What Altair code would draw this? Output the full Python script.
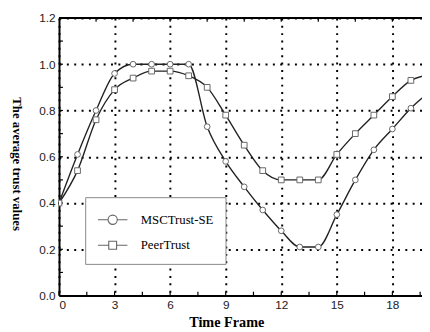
import altair as alt
import pandas as pd

# ---- data ----
time_frames = [0, 1, 2, 3, 4, 5, 6, 7, 8, 9, 10, 11, 12, 13, 14, 15, 16, 17, 18, 19, 20]
msc_trust = [0.40, 0.61, 0.80, 0.96, 1.00, 1.00, 1.00, 1.00, 0.73, 0.58, 0.47, 0.37,
             0.28, 0.21, 0.21, 0.35, 0.50, 0.63, 0.72, 0.81, 0.88]
peer_trust = [0.40, 0.54, 0.76, 0.89, 0.94, 0.97, 0.97, 0.95, 0.90, 0.78, 0.65, 0.54,
              0.50, 0.50, 0.50, 0.61, 0.70, 0.78, 0.86, 0.93, 0.955]
series_names = ["MSCTrust-SE", "PeerTrust"]
x_ticks = [0, 3, 6, 9, 12, 15, 18]
y_ticks = [0.0, 0.2, 0.4, 0.6, 0.8, 1.0, 1.2]
x_minor = [0, 1.5, 3, 4.5, 6, 7.5, 9, 10.5, 12, 13.5, 15, 16.5, 18, 19.5]
x_top_minor = [2, 4, 6, 8, 10, 12, 14, 16, 18]
y_minor = [0.1, 0.2, 0.3, 0.4, 0.5, 0.6, 0.7, 0.8, 0.9, 1.0, 1.1]

rows = []
for t, a, b in zip(time_frames, msc_trust, peer_trust):
    rows.append({"t": t, "v": a, "series": series_names[0]})
    rows.append({"t": t, "v": b, "series": series_names[1]})
df = pd.DataFrame(rows)

W, H = 370, 283
XMAX = 19.6
xs = alt.Scale(domain=[0, XMAX], nice=False, zero=False)
ys = alt.Scale(domain=[0, 1.2], nice=False)

SERIF = "Liberation Serif"
SANS = "Liberation Sans"

x_enc = alt.X("t:Q", scale=xs, axis=alt.Axis(
    values=x_ticks, grid=True, gridDash=[2, 5.5], gridColor="black", gridWidth=2,
    gridOpacity=1, domainColor="black", domainWidth=2, ticks=False,
    labelFont=SANS, labelFontSize=12, labelColor="#222", labelPadding=4,
    title="Time Frame", titleFont=SERIF, titleFontWeight="bold", titleFontSize=14.5,
    titleColor="black", titleX=170.5, titleY=32, titleBaseline="alphabetic",
    titleAlign="center"))
y_enc = alt.Y("v:Q", scale=ys, axis=alt.Axis(
    values=y_ticks, format=".1f", grid=True, gridDash=[2, 5.5], gridColor="black",
    gridWidth=2, gridOpacity=1, domainColor="black", domainWidth=2, ticks=False,
    labelFont=SANS, labelFontSize=12, labelColor="#222", labelPadding=4,
    title="The average trust values", titleFont=SERIF, titleFontWeight="bold",
    titleFontSize=13, titleColor="black", titleAngle=90, titleX=-43, titleY=148.5,
    titleAlign="center", titleBaseline="middle"))

base = alt.Chart(df)

lines = base.mark_line(interpolate="monotone", color="#222", strokeWidth=1.4, clip=True).encode(
    x=x_enc, y=y_enc, detail="series:N")

points = base.transform_filter("datum.t <= 19").mark_point(
    filled=False, fill="white", stroke="#666", strokeWidth=1, size=34, opacity=1, clip=True
).encode(
    x=alt.X("t:Q", scale=xs), y=alt.Y("v:Q", scale=ys),
    shape=alt.Shape("series:N", scale=alt.Scale(domain=series_names, range=["circle", "square"]),
                    legend=None))

# legend glyphs: line with a marker in the middle (unit = 10 px for symbolSize 400)
circ_path = "M-1,0H0.03 M0.97,0H2 M0.03,0A0.47,0.47 0 1,1 0.97,0A0.47,0.47 0 1,1 0.03,0Z"
sq_path = "M-1,0H0.1 M0.9,0H2 M0.1,-0.4H0.9V0.4H0.1Z"

legend_layer = base.transform_filter("false").transform_calculate(lg="datum.series").mark_point(
    filled=False, color="#666", strokeWidth=1.1, opacity=1
).encode(
    x=alt.X("t:Q", scale=xs), y=alt.Y("v:Q", scale=ys),
    shape=alt.Shape("lg:N", scale=alt.Scale(domain=series_names, range=[circ_path, sq_path]),
                    legend=alt.Legend(
                        title=None, orient="none", legendX=26.7, legendY=182.7,
                        padding=12, rowPadding=8, symbolSize=400, symbolStrokeWidth=1.1,
                        symbolStrokeColor="#666", symbolFillColor="white",
                        labelFont=SERIF, labelFontSize=13, labelColor="black",
                        labelAlign="left", labelOffset=22.6, labelLimit=300,
                        fillColor="white", strokeColor="#888")))

top_df = pd.DataFrame({"a": [0], "b": [XMAX], "y": [1.2]})
top_rule = alt.Chart(top_df).mark_rule(color="black", strokeWidth=2).encode(
    x=alt.X("a:Q", scale=xs), x2="b:Q", y=alt.Y("y:Q", scale=ys))

bx = alt.Chart(pd.DataFrame({"x": x_minor})).mark_rule(color="black", strokeWidth=1.2).encode(
    x=alt.X("x:Q", scale=xs), y=alt.value(H), y2=alt.value(H - 4))
tx = alt.Chart(pd.DataFrame({"x": x_top_minor})).mark_rule(color="black", strokeWidth=1.2).encode(
    x=alt.X("x:Q", scale=xs), y=alt.value(0), y2=alt.value(4))
ly = alt.Chart(pd.DataFrame({"y": y_minor})).mark_rule(color="black", strokeWidth=1.2).encode(
    y=alt.Y("y:Q", scale=ys), x=alt.value(0), x2=alt.value(4))

chart = alt.layer(lines, bx, tx, ly, top_rule, points, legend_layer).resolve_scale(
    shape="independent"
).properties(
    width=W, height=H,
    autosize=alt.AutoSizeParams(type="none"),
    padding={"left": 52, "top": 7, "right": 0, "bottom": 34},
    background="white",
).configure_view(stroke=None)

chart.save("out.html", embed_options={"renderer": "svg", "actions": False})
